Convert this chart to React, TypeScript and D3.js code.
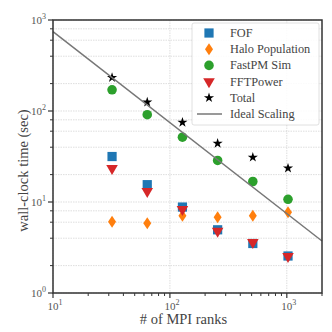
import React, { useRef, useEffect } from "react";
import * as d3 from "d3";

const ranks = [32, 64, 128, 256, 512, 1024];
const fofTime = [31.6, 15.5, 8.8, 4.95, 3.5, 2.55];
const haloTime = [6.05, 5.85, 7.05, 6.8, 7.05, 7.7];
const fastpmTime = [171, 91, 51.5, 28.6, 16.8, 10.7];
const fftTime = [24, 13.4, 8.5, 4.9, 3.7, 2.6];
const totalTime = [233, 125, 75, 44, 31, 23.5];
const idealRanks = [10, 2000];

const xMajor = [10, 100, 1000];
const yMajor = [1, 10, 100, 1000];

const FONT = "'Liberation Serif', 'DejaVu Serif', serif";

const App = () => {
  const ref = useRef<SVGSVGElement>(null);

  useEffect(() => {
    const W = 332;
    const H = 332;
    const m = { top: 20, right: 10, bottom: 39, left: 53 };
    const w = W - m.left - m.right;
    const h = H - m.top - m.bottom;

    const svg = d3.select(ref.current);
    svg.selectAll("*").remove();

    const x = d3.scaleLog().domain([10, 2000]).range([0, w]);
    const y = d3.scaleLog().domain([1, 1000]).range([h, 0]);

    const g = svg.append("g").attr("transform", `translate(${m.left},${m.top})`);

    // minor values
    const xMinor: number[] = [];
    [10, 100, 1000].forEach((d) => {
      for (let k = 2; k <= 9; k++) if (d * k <= 2000) xMinor.push(d * k);
    });
    const yMinor: number[] = [];
    [1, 10, 100].forEach((d) => {
      [2, 4, 6, 8].forEach((k) => yMinor.push(d * k));
    });

    // grid
    g.append("g")
      .selectAll("line")
      .data([...yMinor, ...yMajor])
      .enter()
      .append("line")
      .attr("x1", 0)
      .attr("x2", w)
      .attr("y1", (d) => y(d))
      .attr("y2", (d) => y(d))
      .attr("stroke", "#d0d0d0")
      .attr("stroke-width", 0.7)
      .attr("stroke-dasharray", "1.5,1");
    g.append("g")
      .selectAll("line")
      .data(xMajor)
      .enter()
      .append("line")
      .attr("x1", (d) => x(d))
      .attr("x2", (d) => x(d))
      .attr("y1", 0)
      .attr("y2", h)
      .attr("stroke", "#d0d0d0")
      .attr("stroke-width", 0.7)
      .attr("stroke-dasharray", "1.5,1");

    // series
    const sq = d3.symbol().type(d3.symbolSquare).size(85);
    const circ = d3.symbol().type(d3.symbolCircle).size(72);
    const tri = d3.symbol().type(d3.symbolTriangle).size(58);
    const star = d3.symbol().type(d3.symbolStar).size(32);
    const diamond = "M0,-6L4,0L0,6L-4,0Z";

    const pts = (vals: number[]) => ranks.map((r, i) => [x(r), y(vals[i])]);

    g.selectAll(".fof")
      .data(pts(fofTime))
      .enter()
      .append("path")
      .attr("d", sq() as string)
      .attr("transform", (d) => `translate(${d[0]},${d[1]})`)
      .attr("fill", "#1f77b4");
    g.selectAll(".halo")
      .data(pts(haloTime))
      .enter()
      .append("path")
      .attr("d", diamond)
      .attr("transform", (d) => `translate(${d[0]},${d[1]})`)
      .attr("fill", "#ff7f0e");
    g.selectAll(".fastpm")
      .data(pts(fastpmTime))
      .enter()
      .append("path")
      .attr("d", circ() as string)
      .attr("transform", (d) => `translate(${d[0]},${d[1]})`)
      .attr("fill", "#2ca02c");
    g.selectAll(".fft")
      .data(pts(fftTime))
      .enter()
      .append("path")
      .attr("d", tri() as string)
      .attr("transform", (d) => `translate(${d[0]},${d[1] + 1}) rotate(180)`)
      .attr("fill", "#d62728");
    g.selectAll(".total")
      .data(pts(totalTime))
      .enter()
      .append("path")
      .attr("d", star() as string)
      .attr("transform", (d) => `translate(${d[0]},${d[1]})`)
      .attr("fill", "#000");

    // ideal scaling from the total at 32 ranks
    const c0 = totalTime[0] * ranks[0];
    const line = d3
      .line<number>()
      .x((d) => x(d))
      .y((d) => y(c0 / d));
    g.append("path")
      .attr("d", line(idealRanks) as string)
      .attr("fill", "none")
      .attr("stroke", "#777")
      .attr("stroke-width", 1.5);

    // legend
    const lg = g.append("g").attr("transform", `translate(${w - 130},3)`);
    lg.append("rect")
      .attr("width", 127)
      .attr("height", 102)
      .attr("fill", "#fff")
      .attr("fill-opacity", 0.85)
      .attr("stroke", "#ccc")
      .attr("stroke-opacity", 0.6)
      .attr("rx", 2);
    const items = [
      { label: "FOF", d: sq() as string, fill: "#1f77b4", rot: 0 },
      { label: "Halo Population", d: diamond, fill: "#ff7f0e", rot: 0 },
      { label: "FastPM Sim", d: circ() as string, fill: "#2ca02c", rot: 0 },
      { label: "FFTPower", d: tri() as string, fill: "#d62728", rot: 180 },
      { label: "Total", d: star() as string, fill: "#000", rot: 0 },
      { label: "Ideal Scaling", d: "", fill: "", rot: 0 },
    ];
    items.forEach((it, i) => {
      const cy = 10 + i * 16.2;
      if (it.d) {
        lg.append("path")
          .attr("d", it.d)
          .attr("transform", `translate(17,${cy}) rotate(${it.rot})`)
          .attr("fill", it.fill);
      } else {
        lg.append("line")
          .attr("x1", 5)
          .attr("x2", 30)
          .attr("y1", cy)
          .attr("y2", cy)
          .attr("stroke", "#777")
          .attr("stroke-width", 1.5);
      }
      lg.append("text")
        .attr("x", 38)
        .attr("y", cy + 4)
        .attr("font-family", FONT)
        .attr("font-size", 12.3)
        .attr("fill", "#444")
        .text(it.label);
    });

    // ticks
    const tickCol = "#333";
    g.append("g")
      .selectAll("line")
      .data(xMinor)
      .enter()
      .append("line")
      .attr("x1", (d) => x(d))
      .attr("x2", (d) => x(d))
      .attr("y1", h)
      .attr("y2", h + 3)
      .attr("stroke", tickCol);
    g.append("g")
      .selectAll("line")
      .data(xMajor)
      .enter()
      .append("line")
      .attr("x1", (d) => x(d))
      .attr("x2", (d) => x(d))
      .attr("y1", h)
      .attr("y2", h + 5)
      .attr("stroke", tickCol)
      .attr("stroke-width", 1.2);
    g.append("g")
      .selectAll("line")
      .data(yMinor)
      .enter()
      .append("line")
      .attr("x1", -3)
      .attr("x2", 0)
      .attr("y1", (d) => y(d))
      .attr("y2", (d) => y(d))
      .attr("stroke", tickCol);
    g.append("g")
      .selectAll("line")
      .data(yMajor)
      .enter()
      .append("line")
      .attr("x1", -5)
      .attr("x2", 0)
      .attr("y1", (d) => y(d))
      .attr("y2", (d) => y(d))
      .attr("stroke", tickCol)
      .attr("stroke-width", 1.2);

    // frame
    g.append("rect")
      .attr("width", w)
      .attr("height", h)
      .attr("fill", "none")
      .attr("stroke", "#333")
      .attr("stroke-width", 1.5);

    // tick labels
    const pow = (sel: any, d: number) => {
      sel.append("tspan").text("10");
      sel.append("tspan")
        .attr("dy", -5)
        .attr("font-size", 8)
        .text(String(Math.round(Math.log10(d))));
    };
    xMajor.forEach((d) => {
      const t = g.append("text")
        .attr("x", x(d) + 2)
        .attr("y", h + 17)
        .attr("text-anchor", "middle")
        .attr("font-family", FONT)
        .attr("font-size", 11)
        .attr("fill", "#555");
      pow(t, d);
    });
    yMajor.forEach((d) => {
      const t = g.append("text")
        .attr("x", -7)
        .attr("y", y(d) + 4)
        .attr("text-anchor", "end")
        .attr("font-family", FONT)
        .attr("font-size", 11)
        .attr("fill", "#555");
      pow(t, d);
    });

    // axis labels
    g.append("text")
      .attr("x", w / 2 - 4)
      .attr("y", h + 31)
      .attr("text-anchor", "middle")
      .attr("font-family", FONT)
      .attr("font-size", 14.5)
      .attr("fill", "#444")
      .text("# of MPI ranks");
    g.append("text")
      .attr("transform", `translate(-25,${h / 2 + 14}) rotate(-90)`)
      .attr("text-anchor", "middle")
      .attr("font-family", FONT)
      .attr("font-size", 14.5)
      .attr("fill", "#444")
      .text("wall-clock time (sec)");
  }, []);

  return (
    <svg
      ref={ref}
      width={332}
      height={332}
      style={{ position: "absolute", left: 0, top: 0 }}
    />
  );
};

export default App;
